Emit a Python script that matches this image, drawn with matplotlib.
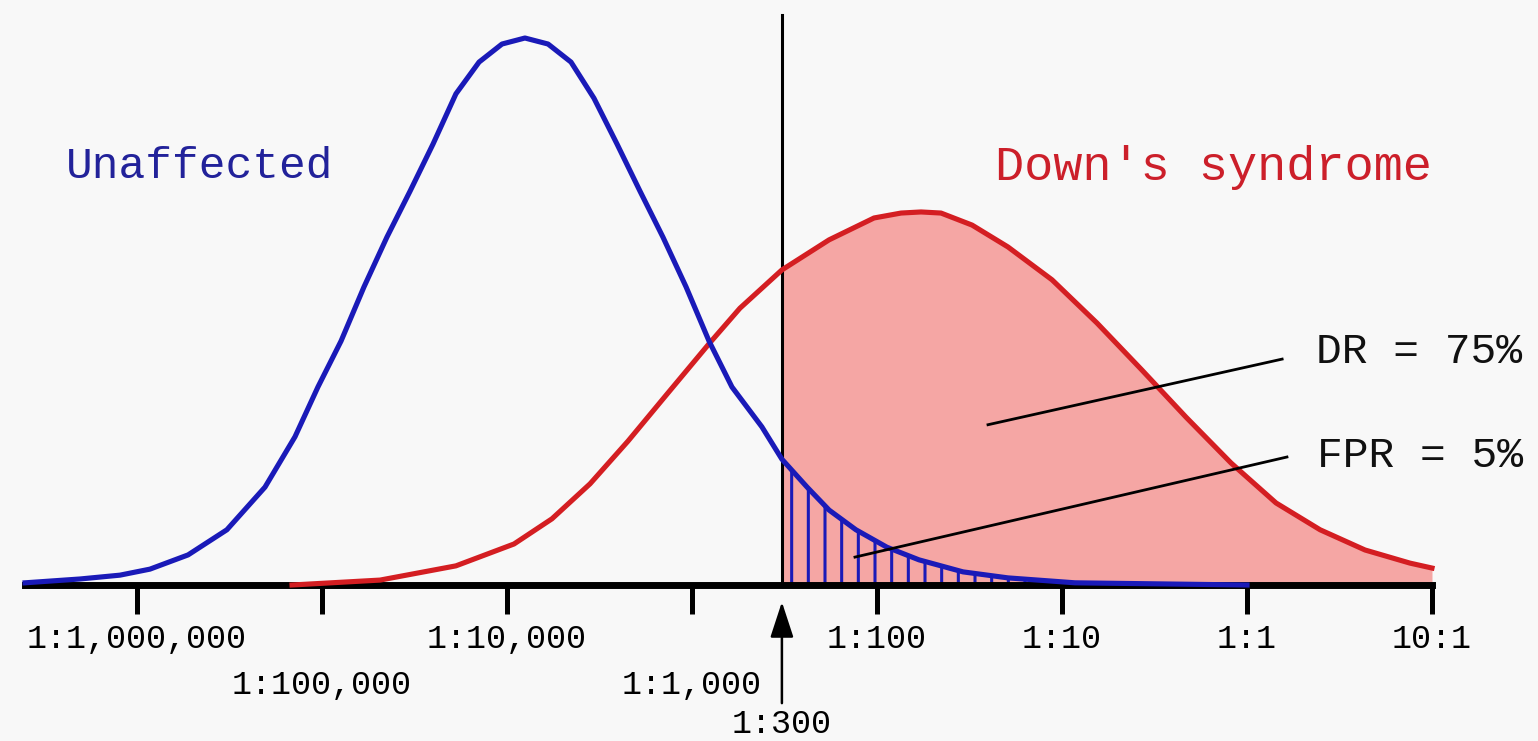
import matplotlib
matplotlib.use('Agg')
import matplotlib.pyplot as plt
import numpy as np

# curve points: x = log10(odds), y = relative frequency
blue_x = [-6.605, -6.308, -6.092, -5.930, -5.724, -5.514, -5.308, -5.146, -5.022, -4.897,
          -4.773, -4.649, -4.524, -4.400, -4.276, -4.151, -4.027, -3.903, -3.778, -3.654,
          -3.530, -3.405, -3.281, -3.157, -3.032, -2.908, -2.784, -2.622, -2.514, -2.378,
          -2.259, -2.114, -1.946, -1.773, -1.535, -1.292, -0.930, 0.0]
blue_y = [0.004, 0.011, 0.018, 0.029, 0.055, 0.101, 0.179, 0.271, 0.362, 0.446,
          0.545, 0.636, 0.720, 0.806, 0.898, 0.956, 0.989, 1.000, 0.989, 0.956,
          0.890, 0.806, 0.720, 0.636, 0.545, 0.446, 0.362, 0.289, 0.230, 0.179,
          0.137, 0.101, 0.069, 0.046, 0.024, 0.013, 0.004, 0.0]

red_x = [-5.162, -4.686, -4.276, -3.962, -3.757, -3.551, -3.346, -3.135, -2.908, -2.741,
         -2.514, -2.259, -2.016, -1.870, -1.762, -1.654, -1.486, -1.292, -1.054, -0.811,
         -0.568, -0.330, -0.086, 0.157, 0.395, 0.638, 0.881, 1.0]
red_y = [0.0, 0.009, 0.035, 0.075, 0.121, 0.185, 0.263, 0.349, 0.441, 0.506,
         0.576, 0.631, 0.671, 0.680, 0.682, 0.680, 0.658, 0.618, 0.558, 0.479,
         0.393, 0.307, 0.223, 0.150, 0.101, 0.064, 0.040, 0.031]

cutoff = -2.514          # risk cut-off 1:300
cutoff_label = '1:300'

tick_row1 = [-6, -4, -2, -1, 0, 1]
label_row1 = ['1:1,000,000', '1:10,000', '1:100', '1:10', '1:1', '10:1']
tick_row2 = [-5, -3]
label_row2 = ['1:100,000', '1:1,000']

dr_label = 'DR = 75%'
fpr_label = 'FPR = 5%'

plt.rcParams['font.family'] = ['Liberation Mono', 'DejaVu Sans Mono']
plt.rcParams['hatch.linewidth'] = 2.2

azul = '#1A1AB8'
rojo = '#D41E22'
rosa = '#F5A6A4'
fondo = '#F8F8F8'

fig = plt.figure(figsize=(15.38, 7.41), dpi=100, facecolor=fondo)
ax = fig.add_axes([0, 0, 1, 1])
ax.set_facecolor(fondo)
ax.set_xlim(-6.7405, 1.573)
ax.set_ylim(-0.2852, 1.0695)

bx = np.array(blue_x)
by = np.array(blue_y)
rx = np.array(red_x)
ry = np.array(red_y)

# area del sindrome de Down por encima del corte
m = rx >= cutoff
ax.fill_between(rx[m], 0, ry[m], color=rosa, linewidth=0, zorder=1)
# falsos positivos rayados
mb = bx >= cutoff
ax.fill_between(bx[mb], 0, by[mb], facecolor='none', edgecolor=azul, hatch='|',
                linewidth=0, zorder=1.5)

ax.plot([cutoff, cutoff], [0, 1.042], color='black', lw=2.2, zorder=2)
ax.plot(rx, ry, color=rojo, lw=3.7, zorder=3, solid_joinstyle='round')
ax.plot(bx, by, color=azul, lw=3.7, zorder=3.5, solid_joinstyle='round')

# eje
for s in ['left', 'right', 'top']:
    ax.spines[s].set_visible(False)
ax.spines['bottom'].set_position(('data', 0))
ax.spines['bottom'].set_bounds(-6.605, 1.0)
ax.spines['bottom'].set_linewidth(5)
ax.spines['bottom'].set_zorder(2.5)
ax.set_yticks([])
ax.set_xticks(tick_row1, label_row1)
ax.set_xticks(tick_row2, label_row2, minor=True)
ax.tick_params(axis='x', which='both', direction='out', length=21, width=3.6,
               labelsize=24, pad=7)
ax.tick_params(axis='x', which='minor', pad=40)

ax.annotate('', xy=(cutoff, -0.031), xytext=(cutoff, -0.216),
            arrowprops=dict(arrowstyle='-|>,head_length=1.1,head_width=0.36',
                            mutation_scale=20, lw=1.8, color='black',
                            shrinkA=0, shrinkB=0))
ax.text(cutoff, -0.2834, cutoff_label, ha='center', va='bottom', fontsize=24)

ax.text(-6.384, 0.744, 'Unaffected', color='#22229A', fontsize=32, va='baseline')
ax.text(-1.362, 0.740, "Down's syndrome", color='#CC1F2A', fontsize=35, va='baseline')

ax.plot([-1.40, 0.19], [0.293, 0.413], color='black', lw=2.0, zorder=4)
ax.plot([-2.119, 0.216], [0.051, 0.234], color='black', lw=2.0, zorder=4)
ax.text(0.373, 0.406, dr_label, fontsize=31, va='baseline', color='#111111')
ax.text(0.378, 0.216, fpr_label, fontsize=31, va='baseline', color='#111111')

fig.savefig('out.png', dpi=100, facecolor=fondo)
